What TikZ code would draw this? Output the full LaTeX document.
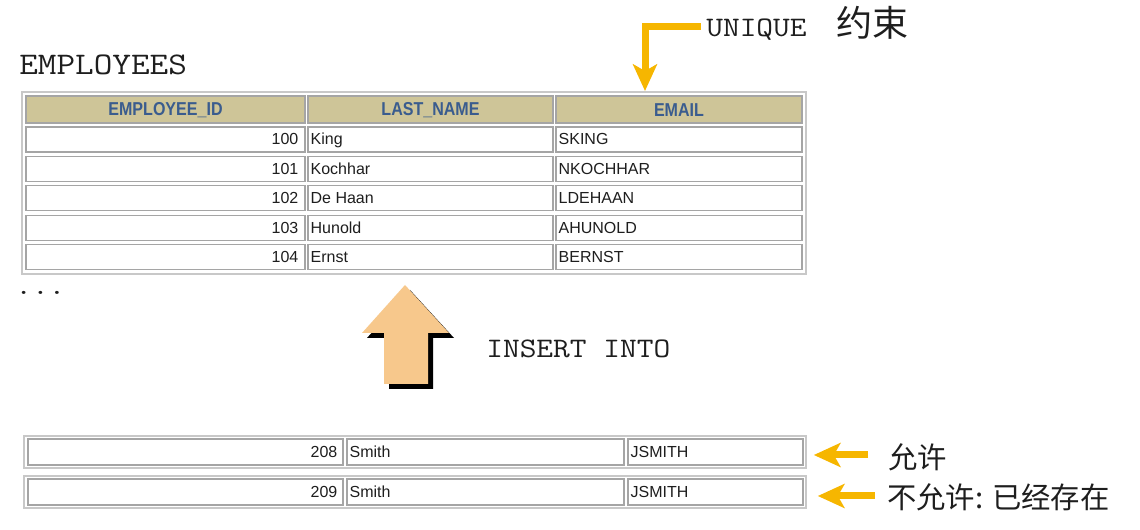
\documentclass[tikz,border=0pt]{standalone}
\usepackage{fontspec}
\setmainfont{Liberation Sans}
\newfontfamily\mono{Latin Modern Mono}[FakeStretch=1.15]
\newfontfamily\cjk{Noto Sans CJK SC}
\newfontfamily\hdr{Liberation Sans}[FakeStretch=0.86]
\usetikzlibrary{arrows.meta,calc}
\definecolor{hdrfill}{RGB}{206,197,152}
\definecolor{hdrtext}{RGB}{58,92,142}
\definecolor{cellline}{RGB}{165,165,165}
\definecolor{frameline}{RGB}{200,200,200}
\definecolor{gold}{RGB}{246,182,0}
\definecolor{tanfill}{RGB}{247,200,140}
\definecolor{ink}{RGB}{30,30,30}
\begin{document}
\begin{tikzpicture}[x=0.75pt,y=-0.75pt,
  frame/.style={draw=frameline, line width=1.2pt, fill=white, inner sep=0pt},
  cell/.style={draw=cellline, line width=0.9pt, fill=white, inner sep=0pt},
  hcell/.style={cell, fill=hdrfill},
  htext/.style={font=\hdr\bfseries\fontsize{14}{16}\selectfont, text=hdrtext, inner sep=0pt},
  ctext/.style={font=\fontsize{12}{14}\selectfont, text=ink, inner sep=0pt},
  mtext/.style={font=\mono\fontsize{21.2}{24}\selectfont, text=ink, inner sep=0pt},
  ctxt/.style={font=\cjk\fontsize{22}{26}\selectfont, text=ink, inner sep=0pt},
  yarrow/.style={draw=gold, line width=5.25pt, -{Stealth[length=20pt,width=18pt,inset=5pt]}, line join=miter}
]
\useasboundingbox (0,0) rectangle (1140,530);

% title
\node[mtext, font=\mono\fontsize{23.6}{26}\selectfont, anchor=base west] (title) at (19,75) {EMPLOYEES};

% top table
\node[frame, minimum width=588pt, minimum height=136.5pt] (tbl) at (414,183) {};
\node[hcell, minimum width=209.25pt, minimum height=20.25pt] (h1) at (165.5,109.5) {};
\node[hcell, minimum width=183.75pt, minimum height=20.25pt] (h2) at (430.5,109.5) {};
\node[hcell, minimum width=184.5pt, minimum height=20.25pt] (h3) at (679,109.5) {};
\node[htext] (ht1) at ($(h1)+(0,1)$) {EMPLOYEE\_ID};
\node[htext] (ht2) at ($(h2)+(0,1)$) {LAST\_NAME};
\node[htext] (ht3) at ($(h3)+(0,1)$) {EMAIL};

\foreach \i/\id/\ln/\em in {0/100/King/SKING,1/101/Kochhar/NKOCHHAR,2/102/De Haan/LDEHAAN,3/103/Hunold/AHUNOLD,4/104/Ernst/BERNST}{
  \pgfmathsetmacro\yc{139.5+29.4*\i}
  \node[cell, minimum width=209.25pt, minimum height=18.75pt] (a\i) at (165.5,\yc) {};
  \node[cell, minimum width=183.75pt, minimum height=18.75pt] (b\i) at (430.5,\yc) {};
  \node[cell, minimum width=184.5pt, minimum height=18.75pt] (c\i) at (679,\yc) {};
  \node[ctext, anchor=base east] (ta\i) at ($(a\i.east)+(-7,5.5)$) {\id};
  \node[ctext, anchor=base west] (tb\i) at ($(b\i.west)+(3,5.5)$) {\ln};
  \node[ctext, anchor=base west] (tc\i) at ($(c\i.west)+(3,5.5)$) {\em};
}

\node[mtext, anchor=base west] (dots) at (15,295) {...};

% up arrow
\fill[black] (410,290) -- (367,338) -- (389,338) -- (389,389) -- (433,389) -- (433,338) -- (454,338) -- cycle;
\fill[tanfill] (405,285) -- (362,333) -- (384,333) -- (384,384) -- (428,384) -- (428,333) -- (449,333) -- cycle;
\node[mtext, anchor=base west] (ins) at (486,358) {INSERT INTO};

% unique label
\node[mtext, anchor=base west] (uq) at (706,37) {UNIQUE\hspace{22pt}{\cjk\fontsize{27}{30}\selectfont 约束}};
\coordinate (ua) at (701,27);
\coordinate (ub) at (645,91);
\draw[yarrow] (ua) -| (ub);

% bottom rows
\foreach \r/\yc/\id in {A/452/208,B/492/209}{
  \node[frame, minimum width=586.5pt, minimum height=24pt] (r\r) at (415,\yc) {};
  \node[cell, minimum width=236.25pt, minimum height=19.5pt] (p\r) at (185.5,\yc) {};
  \node[cell, minimum width=207.75pt, minimum height=19.5pt] (q\r) at (485.5,\yc) {};
  \node[cell, minimum width=131.25pt, minimum height=19.5pt] (s\r) at (715.5,\yc) {};
  \node[ctext, anchor=base east] (tp\r) at ($(p\r.east)+(-6,5.5)$) {\id};
  \node[ctext, anchor=base west] (tq\r) at ($(q\r.west)+(3,5.5)$) {Smith};
  \node[ctext, anchor=base west] (ts\r) at ($(s\r.west)+(3,5.5)$) {JSMITH};
}

\node[ctxt, anchor=west] (lA) at (888,457) {允许};
\node[ctxt, anchor=west] (lB) at (887,497) {不允许: 已经存在};

\coordinate (sA) at ($(lA.west)+(-20,-2)$);
\coordinate (eA) at ($(rA.east)+(7,0)$);
\draw[yarrow] (sA) -- (sA -| eA);
\coordinate (sB) at ($(lB.west)+(-12,-1)$);
\coordinate (eB) at ($(rB.east)+(11,0)$);
\draw[yarrow] (sB) -- (sB -| eB);
\end{tikzpicture}
\end{document}
